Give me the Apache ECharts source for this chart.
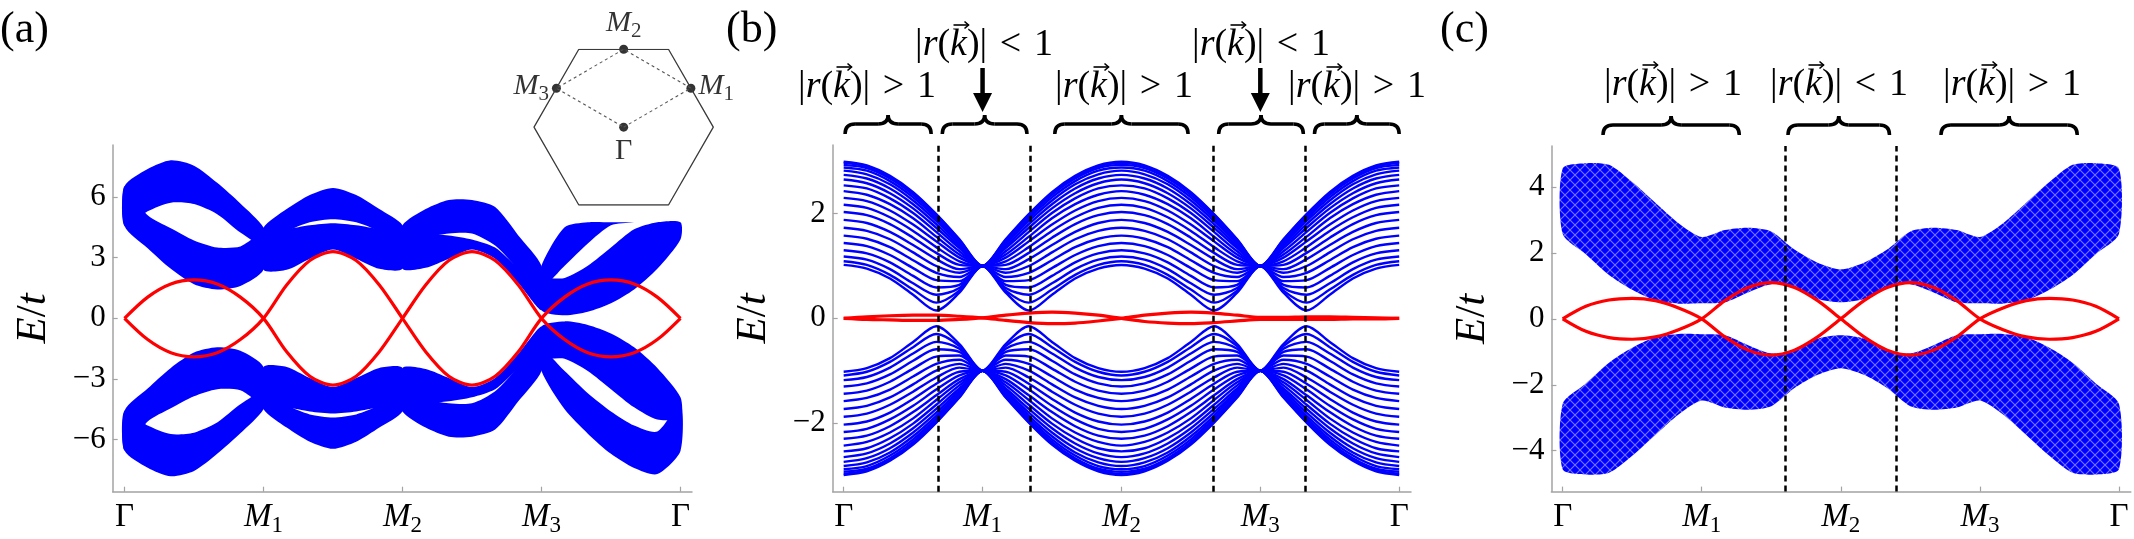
<!DOCTYPE html>
<html>
<head>
<meta charset="utf-8">
<script src="https://cdn.jsdelivr.net/npm/echarts@6/dist/echarts.min.js"></script>
<style>
html, body { margin: 0; padding: 0; background: #fff; }
#chart { width: 2134px; height: 539px; }
</style>
</head>
<body>
<div id="chart"></div>
<script>
// camino en k: Γ=0, M1=1, M2=2, M3=3, Γ=4 (muestras cada 1/6)
var kGrid = [0, 0.1667, 0.3333, 0.5, 0.6667, 0.8333, 1, 1.1667, 1.3333, 1.5, 1.6667, 1.8333, 2,
             2.1667, 2.3333, 2.5, 2.6667, 2.8333, 3, 3.1667, 3.3333, 3.5, 3.6667, 3.8333, 4];
var kTicks = [0, 1, 2, 3, 4];
var kTickLabels = ['Γ', '{i|M}{s|1}', '{i|M}{s|2}', '{i|M}{s|3}', 'Γ'];
var yTicksA = [-6, -3, 0, 3, 6];
var yTicksB = [-2, 0, 2];
var yTicksC = [-4, -2, 0, 2, 4];

// ---- panel (a): bandas como franjas (desde indice s de kGrid) ----
var aU1 = { s: 0, hi: [6.53, 7.38, 7.81, 7.55, 6.7, 5.68, 4.49], lo: [4.57, 5.3, 5.72, 5.65, 5.15, 4.25, 3.6] };
var aU2 = { s: 0, hi: [6.53, 5.1, 4.45, 3.85, 3.5, 3.55, 4.2], lo: [4.57, 3.47, 2.45, 1.69, 1.43, 1.6, 2.4] };
var aU3 = { s: 6, hi: [4.49, 5.4, 6.1, 6.45, 6.1, 5.4, 4.6], lo: [3.6, 4.3, 4.75, 4.9, 4.75, 4.3, 3.6] };
var aU4 = { s: 6, hi: [4.2, 4.4, 4.6, 4.7, 4.6, 4.4, 4.2], lo: [2.4, 2.4, 2.95, 3.4, 2.95, 2.45, 2.45] };
var aU5 = { s: 12, hi: [4.6, 5.4, 5.85, 5.85, 5.5, 4.1, 2.6], lo: [3.6, 4.0, 4.2, 4.2, 3.6, 2.4, 1.0] };
var aU6 = { s: 12, hi: [4.2, 4.2, 4.1, 3.9, 3.5, 2.5, 1.8], lo: [2.45, 2.5, 2.95, 3.4, 2.95, 1.75, 0.4] };
var aU7 = { s: 18, hi: [2.6, 4.5, 4.75, 4.75, 4.75], lo: [1.5, 2.6, 3.7, 4.6, 4.75] };
var aU8 = { s: 18, hi: [1.9, 2.0, 2.6, 3.5, 4.4, 4.75, 4.75], lo: [0.4, 0.15, 0.33, 0.75, 1.43, 2.45, 3.9] };
var aL1 = { s: 0, hi: [-4.57, -5.3, -5.72, -5.65, -5.15, -4.25, -3.6], lo: [-6.53, -7.38, -7.81, -7.55, -6.7, -5.68, -4.49] };
var aL2 = { s: 0, hi: [-4.57, -3.47, -2.45, -1.69, -1.43, -1.6, -2.4], lo: [-6.53, -5.1, -4.45, -3.85, -3.5, -3.55, -4.2] };
var aL3 = { s: 6, hi: [-3.6, -4.3, -4.75, -4.9, -4.75, -4.3, -3.6], lo: [-4.49, -5.4, -6.1, -6.45, -6.1, -5.4, -4.6] };
var aL4 = { s: 6, hi: [-2.4, -2.4, -2.95, -3.4, -2.95, -2.45, -2.45], lo: [-4.2, -4.4, -4.6, -4.7, -4.6, -4.4, -4.2] };
var aL5 = { s: 12, hi: [-3.6, -4.0, -4.2, -4.2, -3.6, -2.4, -1.0], lo: [-4.6, -5.4, -5.85, -5.85, -5.5, -4.1, -2.6] };
var aL6 = { s: 12, hi: [-2.45, -2.5, -2.95, -3.4, -2.95, -1.75, -0.4], lo: [-4.2, -4.2, -4.1, -3.9, -3.5, -2.5, -1.8] };
var aL7 = { s: 18, hi: [-1.5, -2.6, -3.7, -4.6, -5.3, -5.6, -4.2], lo: [-2.6, -4.5, -5.7, -6.7, -7.4, -7.7, -6.56] };
var aL8 = { s: 18, hi: [-0.4, -0.15, -0.33, -0.75, -1.43, -2.45, -3.9], lo: [-1.9, -2.0, -2.6, -3.5, -4.4, -5.0, -4.9] };
var aRed1 = [0, 1.05, 1.7, 1.9, 1.7, 1.05, 0, -1.65, -2.86, -3.3, -2.86, -1.65, 0, 1.65, 2.86, 3.3, 2.86, 1.65, 0, -1.05, -1.7, -1.9, -1.7, -1.05, 0];
var aRed2 = [0, -1.05, -1.7, -1.9, -1.7, -1.05, 0, 1.65, 2.86, 3.3, 2.86, 1.65, 0, -1.65, -2.86, -3.3, -2.86, -1.65, 0, 1.05, 1.7, 1.9, 1.7, 1.05, 0];

// ---- panel (b): lineas de banda ----
var bUp = [
  [2.99,2.92,2.72,2.41,1.99,1.51,1,1.51,1.99,2.41,2.72,2.92,2.99,2.92,2.72,2.41,1.99,1.51,1,1.51,1.99,2.41,2.72,2.92,2.99],
  [2.97,2.90,2.70,2.39,1.98,1.50,1,1.50,1.98,2.39,2.70,2.90,2.97,2.90,2.70,2.39,1.98,1.50,1,1.50,1.98,2.39,2.70,2.90,2.97],
  [2.93,2.87,2.67,2.36,1.95,1.48,1,1.48,1.95,2.36,2.67,2.87,2.93,2.87,2.67,2.36,1.95,1.48,1,1.48,1.95,2.36,2.67,2.87,2.93],
  [2.88,2.82,2.62,2.31,1.91,1.46,1,1.46,1.91,2.31,2.62,2.82,2.88,2.82,2.62,2.31,1.91,1.46,1,1.46,1.91,2.31,2.62,2.82,2.88],
  [2.82,2.75,2.56,2.25,1.86,1.42,1,1.42,1.86,2.25,2.56,2.75,2.82,2.75,2.56,2.25,1.86,1.42,1,1.42,1.86,2.25,2.56,2.75,2.82],
  [2.74,2.67,2.48,2.18,1.80,1.38,1,1.38,1.80,2.18,2.48,2.67,2.74,2.67,2.48,2.18,1.80,1.38,1,1.38,1.80,2.18,2.48,2.67,2.74],
  [2.65,2.58,2.39,2.10,1.73,1.34,1,1.34,1.73,2.10,2.39,2.58,2.65,2.58,2.39,2.10,1.73,1.34,1,1.34,1.73,2.10,2.39,2.58,2.65],
  [2.54,2.48,2.29,2.01,1.65,1.28,1,1.28,1.65,2.01,2.29,2.48,2.54,2.48,2.29,2.01,1.65,1.28,1,1.28,1.65,2.01,2.29,2.48,2.54],
  [2.43,2.36,2.18,1.91,1.56,1.22,1,1.22,1.56,1.91,2.18,2.36,2.43,2.36,2.18,1.91,1.56,1.22,1,1.22,1.56,1.91,2.18,2.36,2.43],
  [2.30,2.24,2.06,1.79,1.47,1.16,1,1.16,1.47,1.79,2.06,2.24,2.30,2.24,2.06,1.79,1.47,1.16,1,1.16,1.47,1.79,2.06,2.24,2.30],
  [2.17,2.11,1.93,1.67,1.36,1.09,1,1.09,1.36,1.67,1.93,2.11,2.17,2.11,1.93,1.67,1.36,1.09,1,1.09,1.36,1.67,1.93,2.11,2.17],
  [2.03,1.97,1.80,1.54,1.25,1.02,1,1.02,1.25,1.54,1.80,1.97,2.03,1.97,1.80,1.54,1.25,1.02,1,1.02,1.25,1.54,1.80,1.97,2.03],
  [1.88,1.82,1.65,1.40,1.13,0.94,1,0.94,1.13,1.40,1.65,1.82,1.88,1.82,1.65,1.40,1.13,0.94,1,0.94,1.13,1.40,1.65,1.82,1.88],
  [1.73,1.67,1.51,1.26,1.00,0.87,1,0.87,1.00,1.26,1.51,1.67,1.73,1.67,1.51,1.26,1.00,0.87,1,0.87,1.00,1.26,1.51,1.67,1.73],
  [1.58,1.52,1.36,1.11,0.87,0.79,1,0.79,0.87,1.11,1.36,1.52,1.58,1.52,1.36,1.11,0.87,0.79,1,0.79,0.87,1.11,1.36,1.52,1.58],
  [1.44,1.38,1.21,0.96,0.73,0.71,1,0.71,0.73,0.96,1.21,1.38,1.44,1.38,1.21,0.96,0.73,0.71,1,0.71,0.73,0.96,1.21,1.38,1.44],
  [1.30,1.24,1.07,0.81,0.59,0.64,1,0.64,0.59,0.81,1.07,1.24,1.30,1.24,1.07,0.81,0.59,0.64,1,0.64,0.59,0.81,1.07,1.24,1.30],
  [1.18,1.12,0.94,0.67,0.45,0.58,1,0.58,0.45,0.67,0.94,1.12,1.18,1.12,0.94,0.67,0.45,0.58,1,0.58,0.45,0.67,0.94,1.12,1.18],
  [1.09,1.02,0.83,0.55,0.30,0.53,1,0.53,0.30,0.55,0.83,1.02,1.09,1.02,0.83,0.55,0.30,0.53,1,0.53,0.30,0.55,0.83,1.02,1.09],
  [1.02,0.95,0.76,0.45,0.15,0.49,1,0.49,0.15,0.45,0.76,0.95,1.02,0.95,0.76,0.45,0.15,0.49,1,0.49,0.15,0.45,0.76,0.95,1.02]
];
var bDown = [
  [-2.99,-2.92,-2.72,-2.41,-1.99,-1.51,-1,-1.51,-1.99,-2.41,-2.72,-2.92,-2.99,-2.92,-2.72,-2.41,-1.99,-1.51,-1,-1.51,-1.99,-2.41,-2.72,-2.92,-2.99],
  [-2.97,-2.90,-2.70,-2.39,-1.98,-1.50,-1,-1.50,-1.98,-2.39,-2.70,-2.90,-2.97,-2.90,-2.70,-2.39,-1.98,-1.50,-1,-1.50,-1.98,-2.39,-2.70,-2.90,-2.97],
  [-2.93,-2.87,-2.67,-2.36,-1.95,-1.48,-1,-1.48,-1.95,-2.36,-2.67,-2.87,-2.93,-2.87,-2.67,-2.36,-1.95,-1.48,-1,-1.48,-1.95,-2.36,-2.67,-2.87,-2.93],
  [-2.88,-2.82,-2.62,-2.31,-1.91,-1.46,-1,-1.46,-1.91,-2.31,-2.62,-2.82,-2.88,-2.82,-2.62,-2.31,-1.91,-1.46,-1,-1.46,-1.91,-2.31,-2.62,-2.82,-2.88],
  [-2.82,-2.75,-2.56,-2.25,-1.86,-1.42,-1,-1.42,-1.86,-2.25,-2.56,-2.75,-2.82,-2.75,-2.56,-2.25,-1.86,-1.42,-1,-1.42,-1.86,-2.25,-2.56,-2.75,-2.82],
  [-2.74,-2.67,-2.48,-2.18,-1.80,-1.38,-1,-1.38,-1.80,-2.18,-2.48,-2.67,-2.74,-2.67,-2.48,-2.18,-1.80,-1.38,-1,-1.38,-1.80,-2.18,-2.48,-2.67,-2.74],
  [-2.65,-2.58,-2.39,-2.10,-1.73,-1.34,-1,-1.34,-1.73,-2.10,-2.39,-2.58,-2.65,-2.58,-2.39,-2.10,-1.73,-1.34,-1,-1.34,-1.73,-2.10,-2.39,-2.58,-2.65],
  [-2.54,-2.48,-2.29,-2.01,-1.65,-1.28,-1,-1.28,-1.65,-2.01,-2.29,-2.48,-2.54,-2.48,-2.29,-2.01,-1.65,-1.28,-1,-1.28,-1.65,-2.01,-2.29,-2.48,-2.54],
  [-2.43,-2.36,-2.18,-1.91,-1.56,-1.22,-1,-1.22,-1.56,-1.91,-2.18,-2.36,-2.43,-2.36,-2.18,-1.91,-1.56,-1.22,-1,-1.22,-1.56,-1.91,-2.18,-2.36,-2.43],
  [-2.30,-2.24,-2.06,-1.79,-1.47,-1.16,-1,-1.16,-1.47,-1.79,-2.06,-2.24,-2.30,-2.24,-2.06,-1.79,-1.47,-1.16,-1,-1.16,-1.47,-1.79,-2.06,-2.24,-2.30],
  [-2.17,-2.11,-1.93,-1.67,-1.36,-1.09,-1,-1.09,-1.36,-1.67,-1.93,-2.11,-2.17,-2.11,-1.93,-1.67,-1.36,-1.09,-1,-1.09,-1.36,-1.67,-1.93,-2.11,-2.17],
  [-2.03,-1.97,-1.80,-1.54,-1.25,-1.02,-1,-1.02,-1.25,-1.54,-1.80,-1.97,-2.03,-1.97,-1.80,-1.54,-1.25,-1.02,-1,-1.02,-1.25,-1.54,-1.80,-1.97,-2.03],
  [-1.88,-1.82,-1.65,-1.40,-1.13,-0.94,-1,-0.94,-1.13,-1.40,-1.65,-1.82,-1.88,-1.82,-1.65,-1.40,-1.13,-0.94,-1,-0.94,-1.13,-1.40,-1.65,-1.82,-1.88],
  [-1.73,-1.67,-1.51,-1.26,-1.00,-0.87,-1,-0.87,-1.00,-1.26,-1.51,-1.67,-1.73,-1.67,-1.51,-1.26,-1.00,-0.87,-1,-0.87,-1.00,-1.26,-1.51,-1.67,-1.73],
  [-1.58,-1.52,-1.36,-1.11,-0.87,-0.79,-1,-0.79,-0.87,-1.11,-1.36,-1.52,-1.58,-1.52,-1.36,-1.11,-0.87,-0.79,-1,-0.79,-0.87,-1.11,-1.36,-1.52,-1.58],
  [-1.44,-1.38,-1.21,-0.96,-0.73,-0.71,-1,-0.71,-0.73,-0.96,-1.21,-1.38,-1.44,-1.38,-1.21,-0.96,-0.73,-0.71,-1,-0.71,-0.73,-0.96,-1.21,-1.38,-1.44],
  [-1.30,-1.24,-1.07,-0.81,-0.59,-0.64,-1,-0.64,-0.59,-0.81,-1.07,-1.24,-1.30,-1.24,-1.07,-0.81,-0.59,-0.64,-1,-0.64,-0.59,-0.81,-1.07,-1.24,-1.30],
  [-1.18,-1.12,-0.94,-0.67,-0.45,-0.58,-1,-0.58,-0.45,-0.67,-0.94,-1.12,-1.18,-1.12,-0.94,-0.67,-0.45,-0.58,-1,-0.58,-0.45,-0.67,-0.94,-1.12,-1.18],
  [-1.09,-1.02,-0.83,-0.55,-0.30,-0.53,-1,-0.53,-0.30,-0.55,-0.83,-1.02,-1.09,-1.02,-0.83,-0.55,-0.30,-0.53,-1,-0.53,-0.30,-0.55,-0.83,-1.02,-1.09],
  [-1.02,-0.95,-0.76,-0.45,-0.15,-0.49,-1,-0.49,-0.15,-0.45,-0.76,-0.95,-1.02,-0.95,-0.76,-0.45,-0.15,-0.49,-1,-0.49,-0.15,-0.45,-0.76,-0.95,-1.02]
];
var bRed1 = [0, 0.03, 0.05, 0.06, 0.06, 0.04, 0.01, -0.04, -0.08, -0.1, -0.09, -0.05, 0, 0.06, 0.1, 0.12, 0.1, 0.06, 0.02, 0.02, 0.03, 0.03, 0.02, 0.01, 0];
var bRed2 = [0, -0.02, -0.03, -0.04, -0.04, -0.02, 0.01, 0.06, 0.1, 0.12, 0.1, 0.06, 0, -0.06, -0.09, -0.1, -0.08, -0.05, -0.02, -0.02, -0.02, -0.02, -0.01, -0.01, 0];
var bDashed = [0.684, 1.342, 2.658, 3.316];
var bBraces = [[0.01, 0.63], [0.71, 1.32], [1.52, 2.48], [2.70, 3.31], [3.39, 4.0]];
var bArrows = [1, 3];

// ---- panel (c) ----
var cU = { s: 0,
  hi: [4.56, 4.72, 4.67, 4.15, 3.52, 2.9, 2.48, 2.69, 2.76, 2.65, 2.1, 1.7, 1.5, 1.7, 2.1, 2.65, 2.76, 2.69, 2.48, 2.9, 3.52, 4.15, 4.67, 4.72, 4.56],
  lo: [2.58, 1.96, 1.33, 0.88, 0.56, 0.46, 0.47, 0.5, 0.8, 1.05, 0.95, 0.6, 0.5, 0.6, 0.95, 1.05, 0.8, 0.5, 0.47, 0.46, 0.56, 0.88, 1.33, 1.96, 2.58] };
var cL = { s: 0,
  hi: [-2.58, -1.96, -1.33, -0.88, -0.56, -0.46, -0.47, -0.5, -0.8, -1.05, -0.95, -0.6, -0.5, -0.6, -0.95, -1.05, -0.8, -0.5, -0.47, -0.46, -0.56, -0.88, -1.33, -1.96, -2.58],
  lo: [-4.56, -4.72, -4.67, -4.15, -3.52, -2.9, -2.48, -2.69, -2.76, -2.65, -2.1, -1.7, -1.5, -1.7, -2.1, -2.65, -2.76, -2.69, -2.48, -2.9, -3.52, -4.15, -4.67, -4.72, -4.56] };
var cRed1 = [0, 0.38, 0.57, 0.62, 0.55, 0.33, 0, -0.55, -0.95, -1.1, -0.95, -0.55, 0, 0.55, 0.95, 1.1, 0.95, 0.55, 0, -0.33, -0.55, -0.62, -0.57, -0.38, 0];
var cRed2 = [0, -0.38, -0.57, -0.62, -0.55, -0.33, 0, 0.55, 0.95, 1.1, 0.95, 0.55, 0, -0.55, -0.95, -1.1, -0.95, -0.55, 0, 0.33, 0.55, 0.62, 0.57, 0.38, 0];
var cDashed = [1.598, 2.395];
var cBraces = [[0.29, 1.27], [1.62, 2.35], [2.72, 3.70]];

// ---- recuadro: zona de Brillouin ----
var hexX = [-0.5, 0.5, 1, 0.5, -0.5, -1, -0.5];
var hexY = [0.866, 0.866, 0, -0.866, -0.866, 0, 0.866];
var pathX = [0, 0.75, 0, -0.75, 0];
var pathY = [0, 0.433, 0.866, 0.433, 0];
var bzNames = ['Γ', 'M1', 'M2', 'M3'];
var bzX = [0, 0.75, 0, -0.75];
var bzY = [0, 0.433, 0.866, 0.433];

var FONT = 'Liberation Serif, DejaVu Serif, serif';
var BLUE = '#0000ff';
var RED = '#ff0000';
var AXIS = '#a3a3a3';

// trama cruzada de lineas finas para el relleno del panel (c)
var meshCanvas = document.createElement('canvas');
meshCanvas.width = 10; meshCanvas.height = 10;
(function () {
  var g = meshCanvas.getContext('2d');
  g.fillStyle = BLUE; g.fillRect(0, 0, 10, 10);
  g.strokeStyle = 'rgba(255,255,255,0.45)'; g.lineWidth = 1.1;
  g.beginPath();
  g.moveTo(-5, -5); g.lineTo(15, 15);
  g.moveTo(-5, 15); g.lineTo(15, -5);
  g.stroke();
})();
var MESH = { image: meshCanvas, repeat: 'repeat' };

var chart = echarts.init(document.getElementById('chart'));

function pairs(vals) {
  return vals.map(function (v, i) { return [kGrid[i], v]; });
}

function yLabel(v) { return v < 0 ? '\u2212' + (-v) : String(v); }

function makeAxes(gi, xr, yr, yTicks) {
  var x = {
    type: 'value', gridIndex: gi, min: xr[0], max: xr[1],
    axisLine: { show: true, onZero: false, lineStyle: { color: AXIS, width: 1.5 } },
    axisTick: { show: true, inside: true, length: 5, customValues: kTicks, lineStyle: { color: AXIS, width: 1.2 } },
    axisLabel: {
      customValues: kTicks, margin: 9, color: '#000', fontFamily: FONT, fontSize: 33,
      formatter: function (v) { return kTickLabels[kTicks.indexOf(Math.round(v))]; },
      rich: {
        i: { fontStyle: 'italic', fontFamily: FONT, fontSize: 33, color: '#000', verticalAlign: 'top', lineHeight: 34 },
        s: { fontFamily: FONT, fontSize: 23, color: '#000', verticalAlign: 'bottom', padding: [14, 0, 0, 0] }
      }
    },
    splitLine: { show: false }
  };
  var y = {
    type: 'value', gridIndex: gi, min: yr[0], max: yr[1],
    name: '{i|E}/{i|t}', nameLocation: 'middle', nameGap: 57, nameRotate: 90,
    nameTextStyle: { fontFamily: FONT, fontSize: 43, color: '#000',
      rich: { i: { fontFamily: FONT, fontSize: 43, fontStyle: 'italic', color: '#000' } } },
    axisLine: { show: true, onZero: false, lineStyle: { color: AXIS, width: 1.5 } },
    axisTick: { show: true, inside: true, length: 5, customValues: yTicks, lineStyle: { color: AXIS, width: 1.2 } },
    axisLabel: { customValues: yTicks, margin: 7, color: '#000', fontFamily: FONT, fontSize: 31, formatter: yLabel },
    splitLine: { show: false }
  };
  return [x, y];
}

function ribbon(gi, rib, fill) {
  return {
    type: 'custom', xAxisIndex: gi, yAxisIndex: gi, silent: true, data: [[rib.s, 0]],
    renderItem: function (params, api) {
      var top = [], bot = [];
      for (var i = 0; i < rib.hi.length; i++) {
        top.push(api.coord([kGrid[rib.s + i], rib.hi[i]]));
        bot.push(api.coord([kGrid[rib.s + i], rib.lo[i]]));
      }
      return { type: 'polygon', shape: { points: top.concat(bot.reverse()), smooth: 0.25 }, style: { fill: fill } };
    }
  };
}

function curve(gi, vals, color, width) {
  return {
    type: 'line', xAxisIndex: gi, yAxisIndex: gi, data: pairs(vals), showSymbol: false, silent: true,
    smooth: 0.3, lineStyle: { color: color, width: width }
  };
}

function dashedLines(gi, xs) {
  return {
    type: 'line', xAxisIndex: gi, yAxisIndex: gi, data: [], silent: true,
    markLine: {
      symbol: ['none', 'none'], silent: true, label: { show: false }, animation: false,
      lineStyle: { color: '#000', width: 2.5, type: [6, 4] },
      data: xs.map(function (x) { return { xAxis: x }; })
    }
  };
}

function braces(gi, ranges) {
  return {
    type: 'custom', xAxisIndex: gi, yAxisIndex: gi, silent: true, clip: false,
    data: ranges.map(function (r) { return [r[0], 0, r[1]]; }),
    encode: { x: 0, y: 1 },
    renderItem: function (params, api) {
      var x0 = api.coord([api.value(0), 0])[0];
      var x1 = api.coord([api.value(2), 0])[0];
      var xm = (x0 + x1) / 2;
      var yb = params.coordSys.y - 21;
      var s = { stroke: '#000', lineWidth: 3.5, fill: null };
      return { type: 'group', children: [
        { type: 'bezierCurve', shape: { x1: x0, y1: yb + 10, cpx1: x0, cpy1: yb, x2: x0 + 10, y2: yb }, style: s },
        { type: 'line', shape: { x1: x0 + 10, y1: yb, x2: xm - 10, y2: yb }, style: s },
        { type: 'bezierCurve', shape: { x1: xm - 10, y1: yb, cpx1: xm, cpy1: yb, x2: xm, y2: yb - 9 }, style: s },
        { type: 'bezierCurve', shape: { x1: xm, y1: yb - 9, cpx1: xm, cpy1: yb, x2: xm + 10, y2: yb }, style: s },
        { type: 'line', shape: { x1: xm + 10, y1: yb, x2: x1 - 10, y2: yb }, style: s },
        { type: 'bezierCurve', shape: { x1: x1 - 10, y1: yb, cpx1: x1, cpy1: yb, x2: x1, y2: yb + 10 }, style: s }
      ] };
    }
  };
}

function arrows(gi, xs) {
  return {
    type: 'custom', xAxisIndex: gi, yAxisIndex: gi, silent: true, clip: false,
    data: xs.map(function (x) { return [x, 0]; }),
    renderItem: function (params, api) {
      var x = api.coord([api.value(0), 0])[0];
      var t = params.coordSys.y;
      return { type: 'group', children: [
        { type: 'line', shape: { x1: x, y1: t - 77, x2: x, y2: t - 50 }, style: { stroke: '#000', lineWidth: 4.5 } },
        { type: 'polygon', shape: { points: [[x - 9.5, t - 52], [x + 9.5, t - 52], [x, t - 33]] }, style: { fill: '#000' } }
      ] };
    }
  };
}

var axA = makeAxes(0, [-0.085, 4.083], [-8.57, 8.57], yTicksA);
var axB = makeAxes(1, [-0.079, 4.085], [-3.31, 3.31], yTicksB);
var axC = makeAxes(2, [-0.081, 4.085], [-5.24, 5.24], yTicksC);

var series = [];
[aU1, aU2, aU3, aU4, aU5, aU6, aU7, aU8, aL1, aL2, aL3, aL4, aL5, aL6, aL7, aL8].forEach(function (r) {
  series.push(ribbon(0, r, BLUE));
});
series.push(curve(0, aRed1, RED, 3.2), curve(0, aRed2, RED, 3.2));

bUp.concat(bDown).forEach(function (row) { series.push(curve(1, row, BLUE, 2.4)); });
series.push(curve(1, bRed1, RED, 3.2), curve(1, bRed2, RED, 3.2));
series.push(dashedLines(1, bDashed), braces(1, bBraces), arrows(1, bArrows));

series.push(ribbon(2, cU, MESH), ribbon(2, cL, MESH));
series.push(curve(2, cRed1, RED, 3.2), curve(2, cRed2, RED, 3.2));
series.push(dashedLines(2, cDashed), braces(2, cBraces));

// recuadro
series.push({
  type: 'line', xAxisIndex: 3, yAxisIndex: 3, silent: true, showSymbol: false,
  data: hexX.map(function (x, i) { return [x, hexY[i]]; }),
  lineStyle: { color: '#3a3a3a', width: 1.3 }
});
series.push({
  type: 'line', xAxisIndex: 3, yAxisIndex: 3, silent: true, showSymbol: false,
  data: pathX.map(function (x, i) { return [x, pathY[i]]; }),
  lineStyle: { color: '#555', width: 1.1, type: [3, 3] }
});
var bzPos = ['bottom', 'right', 'top', 'left'];
series.push({
  type: 'scatter', xAxisIndex: 3, yAxisIndex: 3, silent: true, symbolSize: 9,
  itemStyle: { color: '#000' },
  data: bzX.map(function (x, i) {
    return { value: [x, bzY[i]], label: { show: true, position: bzPos[i], distance: i === 0 ? 4 : 3,
      formatter: bzNames[i] === 'Γ' ? 'Γ' : '{i|M}{s|' + bzNames[i].charAt(1) + '}' } };
  }),
  label: { color: '#000', fontFamily: FONT, fontSize: 30,
    rich: { i: { fontStyle: 'italic', fontFamily: FONT, fontSize: 30, color: '#000', verticalAlign: 'top', lineHeight: 30 },
            s: { fontFamily: FONT, fontSize: 21, color: '#000', verticalAlign: 'bottom', padding: [13, 0, 0, 0] } } }
});

// textos |r(k)| con flecha de vector sobre la k (medida con canvas)
var FS = 38;
var mctx = document.createElement('canvas').getContext('2d');
function tw(t, italic) {
  mctx.font = (italic ? 'italic ' : '') + FS + 'px ' + FONT;
  return mctx.measureText(t).width;
}
function annot(cx, cy, op) {
  var rest = ')| \u200A' + op + ' \u200A1';
  var w1 = tw('|'), w2 = tw('r', true), w3 = tw('('), wk = tw('k', true), w4 = tw(rest);
  var x0 = cx - (w1 + w2 + w3 + wk + w4) / 2;
  var kx = x0 + w1 + w2 + w3 + wk / 2 + 2;
  var ay = cy - 20;
  return [
    { type: 'text', x: cx, y: cy, silent: true,
      style: { text: '|{i|r}({i|k}' + rest, fontFamily: FONT, fontSize: FS, fill: '#000',
        align: 'center', verticalAlign: 'middle',
        rich: { i: { fontFamily: FONT, fontSize: FS, fontStyle: 'italic', fill: '#000' } } } },
    { type: 'polyline', silent: true, shape: { points: [[kx - 7, ay], [kx + 8, ay]] },
      style: { stroke: '#000', lineWidth: 1.6, fill: null } },
    { type: 'polyline', silent: true, shape: { points: [[kx + 4, ay - 3.5], [kx + 8, ay], [kx + 4, ay + 3.5]] },
      style: { stroke: '#000', lineWidth: 1.6, fill: null } }
  ];
}
function tag(x, t) {
  return { type: 'text', x: x, y: 8, silent: true,
    style: { text: t, fontFamily: FONT, fontSize: 44, fill: '#000' } };
}

var graphics = [tag(0, '(a)'), tag(726, '(b)'), tag(1440, '(c)')]
  .concat(annot(867, 87, '>'), annot(984, 45, '<'), annot(1124, 87, '>'), annot(1261, 45, '<'), annot(1357, 87, '>'))
  .concat(annot(1673, 85, '>'), annot(1839, 85, '<'), annot(2012, 85, '>'));

chart.setOption({
  animation: false,
  grid: [
    { left: 112.7, top: 145, width: 579.3, height: 346.7, outerBoundsMode: 'none' },
    { left: 832.7, top: 145, width: 578.3, height: 346.7, outerBoundsMode: 'none' },
    { left: 1551.4, top: 146, width: 579.4, height: 345.6, outerBoundsMode: 'none' },
    { left: 534, top: 49.3, width: 179.3, height: 155.7, outerBoundsMode: 'none' }
  ],
  xAxis: [axA[0], axB[0], axC[0], { type: 'value', gridIndex: 3, min: -1, max: 1, show: false }],
  yAxis: [axA[1], axB[1], axC[1], { type: 'value', gridIndex: 3, min: -0.866, max: 0.866, show: false }],
  series: series,
  graphic: graphics
});
</script>
</body>
</html>
